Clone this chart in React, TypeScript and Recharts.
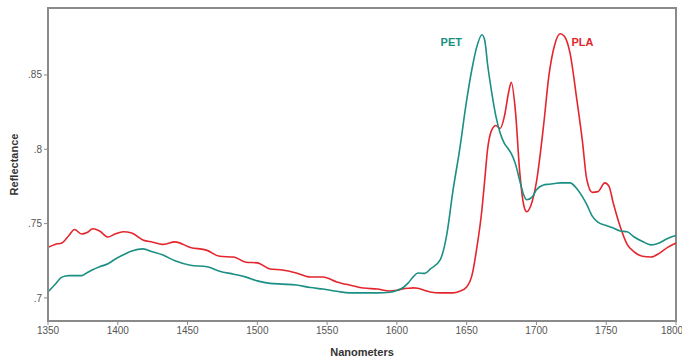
import {
  LineChart,
  Line,
  XAxis,
  YAxis,
  ReferenceArea,
  ReferenceDot,
} from "recharts";

// wavelength (nm) and reflectance readings for the two polymers
const nm = [
  1350, 1355, 1360, 1365, 1369, 1374, 1378, 1382, 1387, 1393, 1398, 1404, 1410, 1418, 1425,
  1432, 1441, 1452, 1464, 1473, 1483, 1492, 1500, 1509, 1518, 1528, 1538, 1547, 1557, 1566,
  1576, 1586, 1595, 1600, 1604, 1608, 1612, 1615, 1620, 1624, 1631, 1636, 1640, 1645, 1650,
  1654, 1657, 1661, 1663, 1665, 1668, 1671, 1674, 1677, 1680, 1682, 1685, 1688, 1691, 1693,
  1697, 1700, 1705, 1709, 1713, 1717, 1720, 1724, 1729, 1733, 1736, 1740, 1744, 1749, 1752,
  1755, 1760, 1765, 1770, 1776, 1782, 1788, 1794, 1800,
];

const pet = [
  0.704, 0.709, 0.714, 0.715, 0.715, 0.715, 0.717, 0.719, 0.721, 0.723, 0.726, 0.729, 0.7315, 0.733, 0.731,
  0.729, 0.725, 0.722, 0.721, 0.718, 0.716, 0.714, 0.7115, 0.7098, 0.7093, 0.7087, 0.707, 0.706, 0.7045, 0.7034,
  0.7034, 0.7034, 0.7038, 0.705, 0.7067, 0.71, 0.7145, 0.7168, 0.7165, 0.7195, 0.7256, 0.744, 0.771, 0.8, 0.833,
  0.855, 0.868, 0.877, 0.873, 0.857, 0.838, 0.822, 0.811, 0.804, 0.8, 0.797, 0.79, 0.779, 0.769, 0.766,
  0.768, 0.7727, 0.776, 0.7765, 0.777, 0.7774, 0.7774, 0.7774, 0.7735, 0.768, 0.763, 0.755, 0.751, 0.749, 0.748,
  0.747, 0.745, 0.7445, 0.741, 0.738, 0.7357, 0.737, 0.74, 0.742,
];

const pla = [
  0.734, 0.736, 0.737, 0.742, 0.746, 0.743, 0.744, 0.7465, 0.745, 0.741, 0.743, 0.7445, 0.7437, 0.739, 0.7375,
  0.736, 0.7377, 0.734, 0.732, 0.728, 0.7275, 0.724, 0.7236, 0.7195, 0.7188, 0.7168, 0.7141, 0.7141, 0.7108, 0.7087,
  0.7067, 0.706, 0.7047, 0.7052, 0.706, 0.7065, 0.7068, 0.7065, 0.705, 0.704, 0.7034, 0.7034, 0.7034, 0.7045, 0.7074,
  0.716, 0.732, 0.76, 0.78, 0.8, 0.813, 0.816, 0.814, 0.822, 0.838, 0.845, 0.825, 0.785, 0.762, 0.758,
  0.765, 0.778, 0.815, 0.85, 0.87, 0.8777, 0.876, 0.865, 0.833, 0.805, 0.78, 0.771, 0.7715, 0.7774, 0.775,
  0.764, 0.748, 0.736, 0.731, 0.728, 0.7275, 0.73, 0.734, 0.737,
];

const xTicks = [1350, 1400, 1450, 1500, 1550, 1600, 1650, 1700, 1750, 1800];
const yTicks = [0.7, 0.75, 0.8, 0.85];

const data = nm.map((w, i) => ({ nm: w, pet: pet[i], pla: pla[i] }));

const Y_MIN = 0.6845;
const Y_MAX = 0.895;
const TEAL = "#1b8f83";
const RED = "#e3262d";
const FONT = "'Liberation Sans Narrow', 'Liberation Sans', Arial, sans-serif";
const BOLD = "'Liberation Sans', Arial, sans-serif";

const tickStyle = { fontSize: 10, fill: "#555", fontFamily: FONT };

export default function App() {
  return (
    <div style={{ position: "absolute", left: 0, top: 0, background: "#fff" }}>
      <LineChart
        width={682}
        height={358}
        data={data}
        margin={{ top: 8, right: 6, left: 0, bottom: 0 }}
      >
        <XAxis
          dataKey="nm"
          type="number"
          domain={[1350, 1800]}
          ticks={xTicks}
          height={37}
          tick={tickStyle}
          tickSize={4}
          axisLine={{ stroke: "#8a8a8a", strokeWidth: 2 }}
          tickLine={{ stroke: "#8a8a8a" }}
          label={{
            value: "Nanometers",
            position: "insideBottom",
            offset: 2,
            style: { fontSize: 11, fontWeight: "bold", fill: "#333", fontFamily: BOLD },
          }}
        />
        <YAxis
          type="number"
          domain={[Y_MIN, Y_MAX]}
          allowDataOverflow
          ticks={yTicks}
          width={48}
          tick={tickStyle}
          tickSize={4}
          tickFormatter={(v: number) => String(v).replace(/^0/, "")}
          axisLine={{ stroke: "#8a8a8a", strokeWidth: 2 }}
          tickLine={{ stroke: "#8a8a8a" }}
          label={{
            value: "Reflectance",
            angle: -90,
            position: "insideLeft",
            offset: 14,
            style: { fontSize: 11, fontWeight: "bold", fill: "#333", fontFamily: BOLD, textAnchor: "middle" },
          }}
        />
        <ReferenceArea
          x1={1350}
          x2={1800}
          y1={Y_MIN}
          y2={Y_MAX}
          fill="none"
          stroke="#8a8a8a"
          strokeWidth={2}
        />
        <Line
          dataKey="pla"
          type="monotone"
          stroke={RED}
          strokeWidth={1.6}
          dot={false}
          isAnimationActive={false}
        />
        <Line
          dataKey="pet"
          type="monotone"
          stroke={TEAL}
          strokeWidth={1.6}
          dot={false}
          isAnimationActive={false}
        />
        <ReferenceDot
          x={1639}
          y={0.8723}
          r={0}
          label={{ value: "PET", position: "center", style: { fontSize: 11, fontWeight: "bold", fill: TEAL, fontFamily: BOLD } }}
        />
        <ReferenceDot
          x={1733}
          y={0.8723}
          r={0}
          label={{ value: "PLA", position: "center", style: { fontSize: 11, fontWeight: "bold", fill: RED, fontFamily: BOLD } }}
        />
      </LineChart>
    </div>
  );
}
